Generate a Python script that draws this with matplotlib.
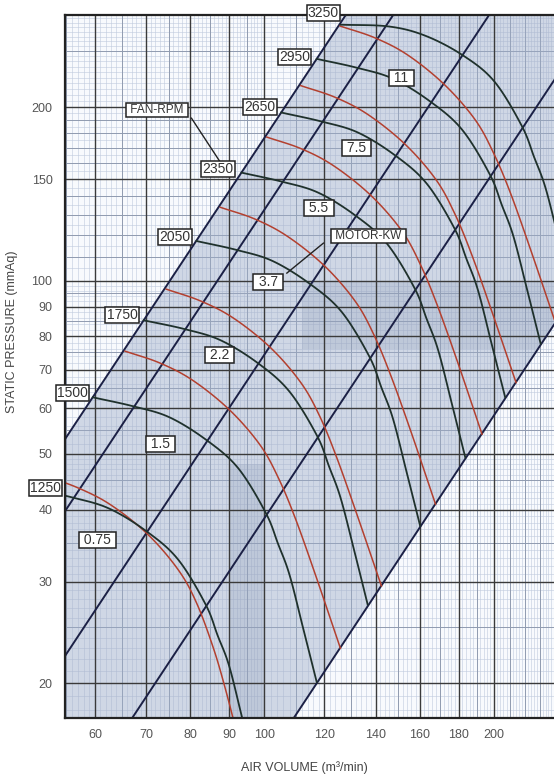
import numpy as np
import matplotlib.pyplot as plt
from matplotlib.ticker import FixedLocator, FixedFormatter, NullLocator

plt.rcParams['font.family'] = ['Liberation Sans', 'DejaVu Sans']

# axis ticks
x_ticks = [60, 70, 80, 90, 100, 120, 140, 160, 180, 200]
y_ticks = [20, 30, 40, 50, 60, 70, 80, 90, 100, 150, 200]

# fan curves: air volume (m3/min) / static pressure (mmAq), one pair per rpm
q_1250 = [49.7, 56.1, 62.6, 70.1, 77.1, 83.8, 86.9, 90.0, 93.8, 97.7]
p_1250 = [43.5, 42.0, 40.2, 36.7, 32.8, 27.4, 24.2, 21.4, 17.2, 14.0]
q_1500 = [59.6, 67.3, 75.1, 84.1, 92.5, 100.5, 104.3, 108.0, 112.6, 117.2]
p_1500 = [62.7, 60.5, 57.9, 52.8, 47.2, 39.5, 34.9, 30.8, 24.8, 20.1]
q_1750 = [69.5, 78.5, 87.6, 98.1, 107.9, 117.3, 121.7, 126.0, 131.4, 136.7]
p_1750 = [85.3, 82.4, 78.8, 71.9, 64.2, 53.8, 47.5, 41.9, 33.8, 27.4]
q_2050 = [81.5, 92.0, 102.6, 114.9, 126.4, 137.4, 142.5, 147.6, 153.9, 160.2]
p_2050 = [117.1, 113.0, 108.1, 98.6, 88.2, 73.8, 65.2, 57.5, 46.3, 37.5]
q_2350 = [93.4, 105.4, 117.7, 131.8, 144.9, 157.5, 163.4, 169.2, 176.4, 183.6]
p_2350 = [153.9, 148.5, 142.1, 129.6, 115.9, 97.0, 85.7, 75.6, 60.9, 49.3]
q_2650 = [105.3, 118.9, 132.7, 148.6, 163.4, 177.6, 184.3, 190.8, 198.9, 207.1]
p_2650 = [195.7, 188.8, 180.7, 164.8, 147.3, 123.3, 108.9, 96.1, 77.4, 62.7]
q_2950 = [117.2, 132.4, 147.7, 165.4, 181.9, 197.7, 205.1, 212.4, 221.5, 230.5]
p_2950 = [242.5, 234.0, 223.9, 204.2, 182.6, 152.8, 135.0, 119.1, 95.9, 77.7]
q_3250 = [126.0, 145.8, 162.7, 182.2, 200.4, 217.8, 226.0, 234.0, 244.0, 253.9]
p_3250 = [278.0, 276.0, 266.0, 246.0, 221.6, 185.4, 163.8, 144.6, 116.4, 94.4]

# motor kW limit curves
q_075 = [51.3, 56.9, 62.9, 70.3, 77.1, 81.5, 85.8, 89.0, 92.5]
p_075 = [45.9, 43.7, 40.8, 36.3, 31.5, 27.6, 23.0, 19.5, 16.0]
q_15 = [65.7, 73.0, 80.6, 90.1, 98.8, 104.5, 110.0, 117.0, 125.9]
p_15 = [75.4, 71.9, 67.1, 59.6, 51.8, 45.3, 38.5, 30.6, 23.0]
q_22 = [74.4, 82.6, 91.2, 102.0, 111.8, 118.3, 124.5, 132.4, 142.5]
p_22 = [96.6, 92.1, 86.0, 76.4, 66.4, 58.1, 49.3, 39.2, 29.5]
q_37 = [87.6, 97.3, 107.4, 120.1, 131.7, 139.3, 146.6, 156.0, 167.8]
p_37 = [134.0, 127.8, 119.2, 105.9, 92.0, 80.5, 68.4, 54.4, 40.9]
q_55 = [100.8, 112.0, 123.6, 138.2, 151.6, 160.3, 168.7, 179.5, 193.1]
p_55 = [177.4, 169.2, 157.9, 140.3, 121.9, 106.6, 90.6, 72.0, 54.1]
q_75 = [111.7, 124.1, 137.0, 153.2, 168.0, 177.7, 187.0, 198.9, 214.0]
p_75 = [217.9, 207.8, 193.9, 172.2, 149.7, 130.9, 111.3, 88.4, 66.5]
q_11 = [125.8, 139.8, 154.4, 172.5, 189.2, 200.1, 210.7, 224.1, 241.1]
p_11 = [276.5, 263.7, 246.1, 218.6, 190.0, 166.1, 141.2, 112.2, 84.4]

# system lines (straight on log-log), two end points each
sys_q_a = [30, 130]
sys_p_a = [15.9, 298.3]
sys_q_a2 = [50, 150]
sys_p_a2 = [33.1, 298.2]
sys_q_b = [50, 200]
sys_p_b = [18.56, 297.0]
sys_q_c = [60, 260]
sys_p_c = [13.9, 261.1]
sys_q_d = [100, 460]
sys_p_d = [14.55, 307.9]

fan_curves = [(q_1250, p_1250), (q_1500, p_1500), (q_1750, p_1750), (q_2050, p_2050),
              (q_2350, p_2350), (q_2650, p_2650), (q_2950, p_2950), (q_3250, p_3250)]
kw_curves = [(q_075, p_075), (q_15, p_15), (q_22, p_22), (q_37, p_37),
             (q_55, p_55), (q_75, p_75), (q_11, p_11)]


def smooth(q, p, n=12):
    # Catmull-Rom through the read points, in log space, only for drawing
    pts = np.column_stack([np.log10(q), np.log10(p)])
    pts = np.vstack([2 * pts[0] - pts[1], pts, 2 * pts[-1] - pts[-2]])
    t = np.linspace(0, 1, n, endpoint=False)[:, None]
    out = []
    for i in range(1, len(pts) - 2):
        p0, p1, p2, p3 = pts[i - 1], pts[i], pts[i + 1], pts[i + 2]
        out.append(0.5 * (2 * p1 + (p2 - p0) * t + (2 * p0 - 5 * p1 + 4 * p2 - p3) * t ** 2
                          + (3 * p1 - p0 - 3 * p2 + p3) * t ** 3))
    out.append(pts[-2][None])
    out = np.vstack(out)
    return 10 ** out[:, 0], 10 ** out[:, 1]


fig = plt.figure(figsize=(5.54, 7.76), dpi=100)
ax = fig.add_axes([0.1173, 0.0747, 0.8827, 0.906])
ax.set_xscale('log')
ax.set_yscale('log')
ax.set_xlim(54.8, 240)
ax.set_ylim(17.4, 289)
ax.set_facecolor('#f8fafd')

# graph paper
fine_x = np.concatenate([np.arange(55, 100, 1), np.arange(100, 241, 2)])
fine_y = np.concatenate([np.arange(18, 50, 1), np.arange(50, 100, 2), np.arange(100, 290, 5)])
mid_x = [55, 65, 75, 85, 95, 110, 130, 150, 170, 190, 210, 220, 230]
mid_y = [25, 35, 45, 55, 65, 75, 85, 95, 110, 120, 130, 140, 160, 170, 180, 190, 250]
ax.vlines(fine_x, 17.4, 289, color='#c0cadd', lw=0.4, zorder=1)
ax.hlines(fine_y, 54.8, 240, color='#c0cadd', lw=0.4, zorder=1)
ax.vlines(mid_x, 17.4, 289, color='#909bb0', lw=0.7, zorder=1)
ax.hlines(mid_y, 54.8, 240, color='#909bb0', lw=0.7, zorder=1)

# shaded working band between first and last system line
band_q = sys_q_a + sys_q_d[::-1]
band_p = sys_p_a + sys_p_d[::-1]
band = ax.fill(band_q, band_p, color='#9fadc8', alpha=0.45, lw=0, zorder=2)[0]
# uneven scan tint inside the band
for rq, rp in [([90, 100, 100, 90], [17.4, 17.4, 48, 48]),
               ([112, 240, 240, 112], [76, 76, 100, 100])]:
    shade = ax.fill(rq, rp, color='#8593b0', alpha=0.22, lw=0, zorder=2)[0]
    shade.set_clip_path(band)

ax.vlines(x_ticks, 17.4, 289, color='#3a3a3a', lw=1.0, zorder=3)
ax.hlines(y_ticks, 54.8, 240, color='#3a3a3a', lw=1.0, zorder=3)

for q, p in [(sys_q_a, sys_p_a), (sys_q_a2, sys_p_a2), (sys_q_b, sys_p_b),
             (sys_q_c, sys_p_c), (sys_q_d, sys_p_d)]:
    ax.plot(q, p, color='#1b2045', lw=1.4, zorder=4)

for q, p in kw_curves:
    ax.plot(*smooth(q, p), color='#b3402f', lw=1.1, zorder=5)
for q, p in fan_curves:
    ax.plot(*smooth(q, p), color='#1f312c', lw=1.3, zorder=6)

box = dict(boxstyle='square,pad=0.08', fc='white', ec='#222222', lw=1.1)
rpm_text = ['3250', '2950', '2650', '2350', '2050', '1750', '1500', '1250']
rpm_pos = [(119.6, 291.2), (109.6, 244.2), (98.8, 200.0), (87.0, 156.1),
           (76.4, 118.9), (65.1, 87.1), (56.0, 63.8), (51.7, 43.6)]
for t, (q, p) in zip(rpm_text, rpm_pos):
    ax.text(q, p, t, ha='center', va='center', fontsize=10, color='#333333',
            bbox=box, zorder=9, clip_on=False)

kw_text = ['11', '7.5', '5.5', '3.7', '2.2', '1.5', '0.75']
kw_pos = [(151.4, 224.6), (132.2, 169.8), (118.0, 133.6), (101.2, 99.4),
          (87.4, 74.2), (73.1, 52.0), (60.4, 35.4)]
for t, (q, p) in zip(kw_text, kw_pos):
    ax.text(q, p, ' ' + t + ' ', ha='center', va='center', fontsize=10, color='#333333',
            bbox=box, zorder=9)

ax.plot([80.3, 87.4], [191.3, 161.2], color='#222222', lw=1.0, zorder=8)
ax.text(72.3, 198.0, ' FAN-RPM ', ha='center', va='center', fontsize=8.5,
        color='#333333', bbox=box, zorder=9)
ax.plot([119.6, 107.1], [116.1, 103.0], color='#222222', lw=1.0, zorder=8)
ax.text(137.0, 119.4, ' MOTOR-KW ', ha='center', va='center', fontsize=8.5,
        color='#333333', bbox=box, zorder=9)

ax.xaxis.set_major_locator(FixedLocator(x_ticks))
ax.xaxis.set_major_formatter(FixedFormatter([str(v) for v in x_ticks]))
ax.xaxis.set_minor_locator(NullLocator())
ax.yaxis.set_major_locator(FixedLocator(y_ticks))
ax.yaxis.set_major_formatter(FixedFormatter([str(v) for v in y_ticks]))
ax.yaxis.set_minor_locator(NullLocator())
ax.tick_params(length=0, labelsize=9, colors='#555555')
ax.tick_params(axis='y', pad=9)
ax.tick_params(axis='x', pad=8)

for s in ['left', 'bottom', 'top']:
    ax.spines[s].set_color('#222222')
    ax.spines[s].set_linewidth(1.6)
    ax.spines[s].set_zorder(7)
ax.spines['right'].set_visible(False)

ax.set_xlabel('AIR VOLUME (m³/min)', fontsize=9, color='#444444')
ax.xaxis.set_label_coords(0.49, -0.062)
ax.set_ylabel('STATIC PRESSURE (mmAq)', fontsize=9, color='#444444')
ax.yaxis.set_label_coords(-0.096, 0.55)

fig.savefig('out.png', dpi=100, facecolor='white')
